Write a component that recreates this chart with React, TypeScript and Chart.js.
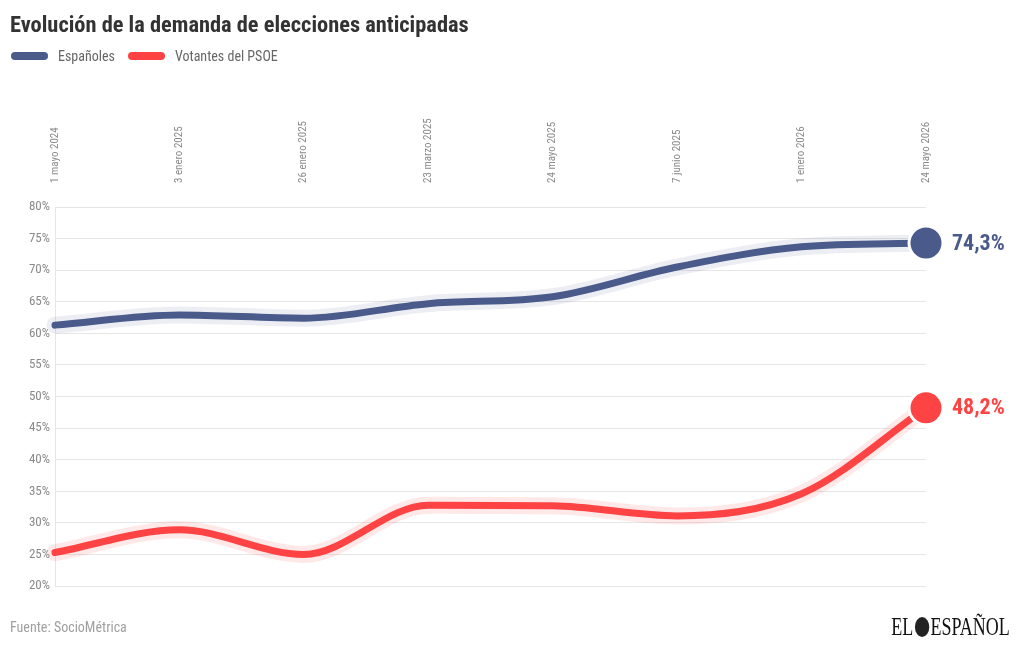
import React, { useEffect, useRef } from "react";
import { Chart, registerables } from "chart.js";

Chart.register(...registerables);

const categories = [
  "1 mayo 2024",
  "3 enero 2025",
  "26 enero 2025",
  "23 marzo 2025",
  "24 mayo 2025",
  "7 junio 2025",
  "1 enero 2026",
  "24 mayo 2026",
];
const espanoles = [61.3, 62.9, 62.4, 64.7, 65.8, 70.5, 73.7, 74.3];
const votantesPsoe = [25.3, 28.9, 25.0, 32.8, 32.7, 31.1, 34.6, 48.2];
const yTicks = { min: 20, max: 80, step: 5 };

const BLUE = "#4a5a8b";
const RED = "#fd4343";
const COND = "'Roboto Condensed', 'Liberation Sans Narrow', 'DejaVu Sans Condensed', Roboto, sans-serif";

const endLabels = {
  id: "endLabels",
  afterDatasetsDraw(chart: any) {
    const ctx = chart.ctx;
    chart.data.datasets.forEach((ds: any, i: number) => {
      if (!ds.endLabel) return;
      const meta = chart.getDatasetMeta(i);
      const pt = meta.data[meta.data.length - 1];
      const v = ds.data[ds.data.length - 1];
      ctx.save();
      ctx.font = `bold 22px ${COND}`;
      ctx.fillStyle = ds.borderColor;
      ctx.textAlign = "left";
      ctx.textBaseline = "middle";
      ctx.fillText(v.toFixed(1).replace(".", ",") + "%", pt.x + 26, pt.y + 1);
      ctx.restore();
    });
  },
};

export default function App() {
  const ref = useRef<HTMLCanvasElement>(null);
  useEffect(() => {
    const last = categories.length - 1;
    const chart = new Chart(ref.current!, {
      type: "line",
      data: {
        labels: categories,
        datasets: [
          {
            label: "halo1",
            data: espanoles,
            borderColor: "rgba(74,90,139,0.10)",
            borderWidth: 17,
            pointRadius: 0,
            cubicInterpolationMode: "monotone",
            borderCapStyle: "round",
            order: 3,
          },
          {
            label: "halo2",
            data: votantesPsoe,
            borderColor: "rgba(253,67,67,0.12)",
            borderWidth: 17,
            pointRadius: 0,
            cubicInterpolationMode: "monotone",
            borderCapStyle: "round",
            order: 3,
          },
          {
            label: "Españoles",
            data: espanoles,
            borderColor: BLUE,
            backgroundColor: BLUE,
            borderWidth: 7,
            cubicInterpolationMode: "monotone",
            borderCapStyle: "round",
            pointRadius: (c: any) => (c.dataIndex === last ? 17 : 0),
            pointBorderColor: "#ffffff",
            pointBorderWidth: 3,
            pointBackgroundColor: BLUE,
            order: 1,
            endLabel: true,
          } as any,
          {
            label: "Votantes del PSOE",
            data: votantesPsoe,
            borderColor: RED,
            backgroundColor: RED,
            borderWidth: 7,
            cubicInterpolationMode: "monotone",
            borderCapStyle: "round",
            pointRadius: (c: any) => (c.dataIndex === last ? 17 : 0),
            pointBorderColor: "#ffffff",
            pointBorderWidth: 3,
            pointBackgroundColor: RED,
            order: 1,
            endLabel: true,
          } as any,
        ],
      },
      options: {
        animation: false,
        responsive: false,
        clip: false as any,
        layout: { padding: { left: 0, right: 94, top: 0, bottom: 64 } },
        plugins: {
          legend: { display: false },
          tooltip: { enabled: false },
          title: { display: false },
        },
        scales: {
          x: {
            position: "top",
            offset: false,
            grid: { display: false, drawTicks: false },
            border: { display: false },
            ticks: {
              minRotation: 90,
              maxRotation: 90,
              autoSkip: false,
              padding: 24,
              labelOffset: 13,
              color: "#8a8a8a",
              font: { family: COND, size: 11 },
            },
            afterFit: (s: any) => {
              s.height = 207;
            },
          },
          y: {
            min: yTicks.min,
            max: yTicks.max,
            grid: { color: "#e6e6e6", drawTicks: false, lineWidth: 1 },
            border: { display: true, color: "#e6e6e6" },
            ticks: {
              stepSize: yTicks.step,
              padding: 5,
              color: "#8a8a8a",
              font: { family: COND, size: 13 },
              callback: (v: any) => v + "%",
            },
            afterFit: (s: any) => {
              s.width = 55;
            },
          },
        },
      },
      plugins: [endLabels],
    });
    return () => chart.destroy();
  }, []);

  const pill = (color: string) => ({
    display: "inline-block",
    width: 37,
    height: 8,
    borderRadius: 4,
    background: color,
    verticalAlign: "middle",
  });

  return (
    <div style={{ position: "fixed", left: 0, top: 0, width: 1020, height: 650, background: "#fff", overflow: "hidden" }}>
      <canvas ref={ref} width={1020} height={650} style={{ position: "absolute", left: 0, top: 0 }} />
      <div
        style={{
          position: "absolute",
          left: 10,
          top: 9,
          fontFamily: COND,
          fontWeight: 700,
          fontSize: 22.4,
          color: "#333333",
          lineHeight: "30px",
          whiteSpace: "nowrap",
        }}
      >
        Evolución de la demanda de elecciones anticipadas
      </div>
      <div
        style={{
          position: "absolute",
          left: 11,
          top: 46,
          fontFamily: COND,
          fontSize: 14,
          color: "#666666",
          lineHeight: "20px",
          whiteSpace: "nowrap",
          display: "flex",
          alignItems: "center",
        }}
      >
        <span style={pill(BLUE)} />
        <span style={{ marginLeft: 10 }}>Españoles</span>
        <span style={{ ...pill(RED), marginLeft: 13 }} />
        <span style={{ marginLeft: 10 }}>Votantes del PSOE</span>
      </div>
      <div
        style={{
          position: "absolute",
          left: 10,
          top: 617,
          fontFamily: COND,
          fontSize: 14,
          color: "#a0a0a0",
          lineHeight: "20px",
        }}
      >
        Fuente: SocioMétrica
      </div>
      <div
        style={{
          position: "absolute",
          right: 10,
          top: 613,
          fontFamily: "'Liberation Serif', serif",
          fontSize: 25,
          color: "#111",
          lineHeight: "28px",
          transform: "scaleX(0.72)",
          transformOrigin: "right center",
          whiteSpace: "nowrap",
          display: "flex",
          alignItems: "center",
        }}
      >
        EL
        <span style={{ display: "inline-block", width: 20, height: 20, borderRadius: 10, background: "#222", margin: "0 2px" }} />
        ESPAÑOL
      </div>
    </div>
  );
}
